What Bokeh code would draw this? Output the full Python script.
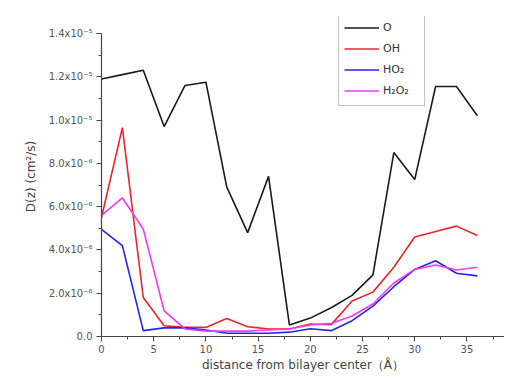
from bokeh.plotting import figure
from bokeh.models import FixedTicker, Legend, LegendItem, Range1d
from bokeh.embed import file_html
from bokeh.resources import INLINE

# distance from bilayer center (Å)
z = [0, 2, 4, 6, 8, 10, 12, 14, 16, 18, 20, 22, 24, 26, 28, 30, 32, 34, 36]
# D(z) in units of 1e-6 cm^2/s
d_O = [11.9, 12.1, 12.3, 9.7, 11.6, 11.75, 6.9, 4.8, 7.4, 0.53, 0.85, 1.33, 1.9, 2.85, 8.5, 7.25, 11.55, 11.55, 10.2]
d_OH = [5.5, 9.65, 1.8, 0.5, 0.42, 0.42, 0.83, 0.45, 0.35, 0.35, 0.58, 0.55, 1.64, 2.05, 3.2, 4.6, 4.85, 5.1, 4.67]
d_HO2 = [4.95, 4.2, 0.27, 0.4, 0.4, 0.3, 0.15, 0.15, 0.15, 0.2, 0.36, 0.27, 0.73, 1.4, 2.3, 3.1, 3.5, 2.92, 2.8]
d_H2O2 = [5.6, 6.4, 4.97, 1.18, 0.35, 0.25, 0.25, 0.25, 0.3, 0.35, 0.53, 0.6, 0.95, 1.5, 2.47, 3.1, 3.3, 3.07, 3.2]

names = ["O", "OH", "HO\u2082", "H\u2082O\u2082"]
colors = ["#1a1a1a", "#e8262e", "#2424f0", "#f03cf0"]

x_ticks = [0, 5, 10, 15, 20, 25, 30, 35, 40]
y_ticks = [0, 2, 4, 6, 8, 10, 12, 14]
y_labels = ["0.0", "2.0x10\u207b\u2076", "4.0x10\u207b\u2076", "6.0x10\u207b\u2076",
            "8.0x10\u207b\u2076", "1.0x10\u207b\u2075", "1.2x10\u207b\u2075", "1.4x10\u207b\u2075"]

FONT = "DejaVu Sans, sans-serif"

p = figure(width=504, height=374, output_backend="svg", toolbar_location=None,
           x_range=Range1d(0, 38.6), y_range=Range1d(0, 14.786),
           min_border_left=101, min_border_right=0, min_border_top=16, min_border_bottom=38)
p.outline_line_color = None
p.xgrid.visible = False
p.ygrid.visible = False
p.background_fill_color = "white"

renderers = []
for ys, c in zip([d_O, d_OH, d_HO2, d_H2O2], colors):
    r = p.line(z, ys, line_color=c, line_width=1.6)
    renderers.append(r)

p.xaxis.ticker = FixedTicker(ticks=x_ticks, minor_ticks=[2.5 + 5 * i for i in range(8)])
p.yaxis.ticker = FixedTicker(ticks=y_ticks, minor_ticks=[1 + 2 * i for i in range(7)])
p.yaxis.major_label_overrides = {t: l for t, l in zip(y_ticks, y_labels)}
p.yaxis.bounds = (0, 14)

for ax in (p.xaxis[0], p.yaxis[0]):
    ax.axis_line_color = "#444444"
    ax.axis_line_width = 1.2
    ax.major_tick_line_color = "#444444"
    ax.minor_tick_line_color = "#444444"
    ax.major_tick_out = 5
    ax.major_tick_in = 0
    ax.minor_tick_out = 3
    ax.minor_tick_in = 0
    ax.major_label_text_font = FONT
    ax.major_label_text_font_size = "10px"
    ax.major_label_text_color = "#555555"
    ax.axis_label_text_font = FONT
    ax.axis_label_text_font_style = "normal"
    ax.axis_label_text_font_size = "12px"
    ax.axis_label_text_color = "#444444"

p.xaxis.axis_label = "distance from bilayer center\uff08\u00c5\uff09"
p.yaxis.axis_label = "D(z) (cm\u00b2/s)"
p.yaxis.axis_label_standoff = 8
p.yaxis.major_label_standoff = 4
p.xaxis.axis_label_standoff = 2
p.xaxis.major_label_standoff = 3

legend = Legend(items=[LegendItem(label=n, renderers=[r]) for n, r in zip(names, renderers)],
                location=(237, 230))
legend.label_text_font = FONT
legend.label_text_font_size = "11px"
legend.label_text_color = "#333333"
legend.glyph_width = 35
legend.glyph_height = 19
legend.label_height = 19
legend.label_width = 36
legend.label_standoff = 4
legend.spacing = 2
legend.padding = 5
legend.margin = 0
legend.border_line_color = "#888888"
legend.border_line_width = 1
legend.background_fill_alpha = 1.0
p.add_layout(legend, "center")

open("out.html", "w").write(file_html(p, INLINE))
